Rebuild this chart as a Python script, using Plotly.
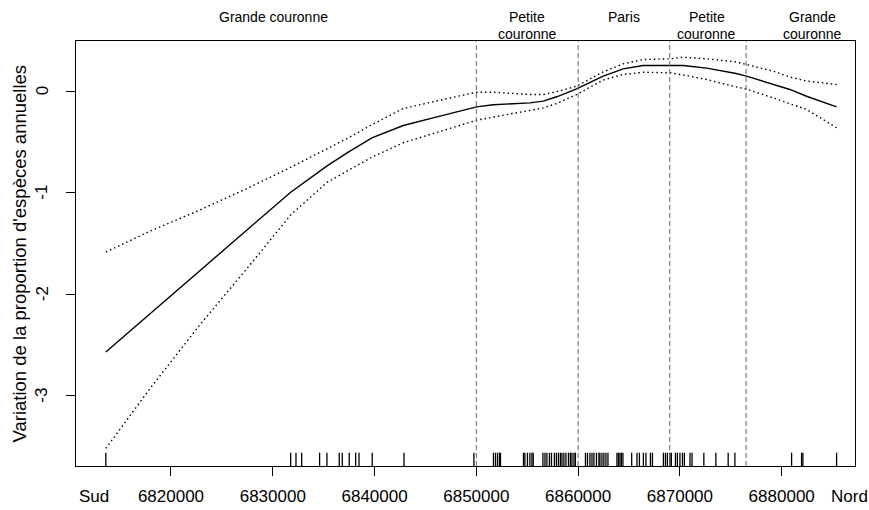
import plotly.graph_objects as go

# ---- data ----
x_curve = [6813600, 6817940, 6822850, 6827440, 6831760, 6835300, 6837420, 6839740,
           6842820, 6846420, 6850030, 6851660, 6855270, 6856570, 6857890, 6859850,
           6862460, 6864430, 6866390, 6869020, 6870320, 6872620, 6875400, 6876550,
           6879160, 6880800, 6882440, 6885390]
fit = [-2.57, -2.195, -1.77, -1.37, -0.995, -0.739, -0.60, -0.46,
       -0.338, -0.246, -0.154, -0.134, -0.115, -0.098, -0.055, 0.023,
       0.148, 0.22, 0.253, 0.253, 0.253, 0.227, 0.177, 0.148,
       0.07, 0.017, -0.05, -0.154]
upper = [-1.585, -1.379, -1.17, -0.96, -0.75, -0.568, -0.46, -0.33,
         -0.17, -0.089, -0.01, -0.01, -0.033, -0.033, -0.005, 0.049,
         0.19, 0.27, 0.312, 0.319, 0.335, 0.319, 0.29, 0.263,
         0.197, 0.14, 0.10, 0.066]
lower = [-3.52, -2.93, -2.30, -1.75, -1.22, -0.90, -0.78, -0.65,
         -0.508, -0.394, -0.286, -0.255, -0.19, -0.165, -0.121, -0.033,
         0.11, 0.165, 0.187, 0.181, 0.16, 0.115, 0.045, 0.02,
         -0.066, -0.12, -0.18, -0.36]

rug = [6813600, 6831760, 6832280, 6832840, 6834600, 6835320, 6836530, 6836830,
       6837510, 6838140, 6838470, 6839770, 6842890, 6849760,
       6851680, 6851880, 6852080, 6852270, 6852370,
       6854630, 6854770, 6855020, 6855260, 6855460, 6855590,
       6856540, 6856740, 6856930, 6857180, 6857380,
       6857670, 6857870, 6858070, 6858260, 6858410, 6858600, 6858800,
       6859050, 6859240, 6859390, 6859590, 6859730,
       6860720, 6860920, 6861160, 6861360, 6861550, 6861800, 6862040, 6862140,
       6862340, 6862530, 6862730, 6862930,
       6863810, 6863960, 6864110, 6864250, 6864400,
       6865260, 6865780, 6866020, 6866410, 6866660, 6867100, 6867300,
       6868380, 6868580, 6868770, 6869020, 6869160,
       6869560, 6869750, 6870000, 6870250, 6870440,
       6870990, 6871190, 6872350, 6873530, 6874740, 6875400,
       6880970, 6881950, 6882080, 6885390]

boundaries = [6850000, 6860000, 6869000, 6876500]
region_x = [6830100, 6855000, 6864500, 6872650, 6883000]
region_line1 = ["Grande couronne", "Petite", "Paris", "Petite", "Grande"]
region_line2 = ["", "couronne", "", "couronne", "couronne"]

x_ticks = [6820000, 6830000, 6840000, 6850000, 6860000, 6870000, 6880000]
y_ticks = [0, -1, -2, -3]
end_labels = ["Sud", "Nord"]
end_x = [6812440, 6886700]
y_title = "Variation de la proportion d'espèces annuelles"

x_range = [6810668, 6887200]
y_range = [-3.693, 0.4946]
rug_top = -3.562

FONT = "Liberation Sans, Arial, sans-serif"

fig = go.Figure()

# rug
rx, ry = [], []
for v in rug:
    rx += [v, v, None]
    ry += [y_range[0], rug_top, None]
fig.add_trace(go.Scatter(x=rx, y=ry, mode="lines", line=dict(color="black", width=1.3),
                         hoverinfo="skip", showlegend=False))

fig.add_trace(go.Scatter(x=x_curve, y=upper, mode="lines",
                         line=dict(color="black", width=1.4, dash="1.5px,3px"), showlegend=False))
fig.add_trace(go.Scatter(x=x_curve, y=lower, mode="lines",
                         line=dict(color="black", width=1.4, dash="1.5px,3px"), showlegend=False))
fig.add_trace(go.Scatter(x=x_curve, y=fit, mode="lines",
                         line=dict(color="black", width=1.4), showlegend=False))

for b in boundaries:
    fig.add_shape(type="line", x0=b, x1=b, y0=0, y1=1, xref="x", yref="paper",
                  line=dict(color="#666666", width=1, dash="5px,3px"))

LBL = 14
for xv, l1, l2 in zip(region_x, region_line1, region_line2):
    fig.add_annotation(x=xv, y=1, xref="x", yref="paper", text=l1, showarrow=False,
                       yanchor="middle", yshift=24, font=dict(size=LBL, color="black", family=FONT))
    if l2:
        fig.add_annotation(x=xv, y=1, xref="x", yref="paper", text=l2, showarrow=False,
                           yanchor="middle", yshift=7.5, font=dict(size=LBL, color="black", family=FONT))

for xv, t in zip(end_x, end_labels):
    fig.add_annotation(x=xv, y=0, xref="x", yref="paper", text=t, showarrow=False,
                       yanchor="middle", yshift=-30.5, font=dict(size=17, color="black", family=FONT))

# y tick labels (rotated, as in the reference)
for yv in y_ticks:
    fig.add_annotation(x=0, y=yv, xref="paper", yref="y", text=str(yv), showarrow=False,
                       textangle=-90, xanchor="center", yanchor="middle", xshift=-34,
                       font=dict(size=17, color="black", family=FONT))

fig.add_annotation(x=0, y=0.5, xref="paper", yref="paper", text=y_title, showarrow=False,
                   textangle=-90, xanchor="center", yanchor="middle", xshift=-57,
                   font=dict(size=18.5, color="black", family=FONT))

fig.update_layout(
    width=869, height=510,
    margin=dict(l=76, r=14, t=41, b=44),
    paper_bgcolor="white", plot_bgcolor="white",
    font=dict(family=FONT, color="black", size=17),
    showlegend=False,
)
fig.update_xaxes(range=x_range, tickvals=x_ticks, ticktext=[str(v) for v in x_ticks],
                 showgrid=False, zeroline=False, showline=True, mirror=True,
                 linecolor="black", linewidth=1, ticks="outside", ticklen=9,
                 tickcolor="black", tickfont=dict(size=17), ticklabelstandoff=6,
                 automargin=False)
fig.update_yaxes(range=y_range, tickvals=y_ticks, showticklabels=False,
                 showgrid=False, zeroline=False, showline=True, mirror=True,
                 linecolor="black", linewidth=1, ticks="outside", ticklen=9,
                 tickcolor="black", automargin=False)

fig.write_html("out.html")
